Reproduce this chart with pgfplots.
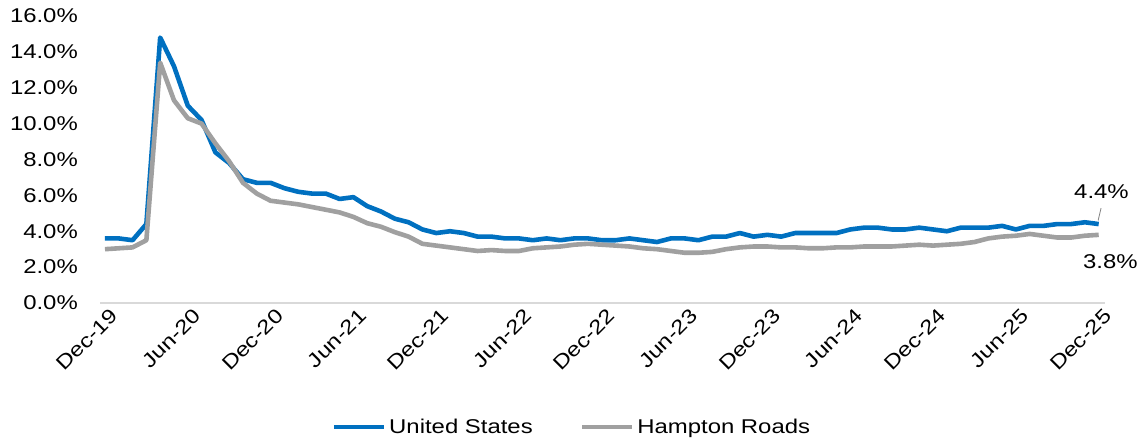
\documentclass[border=0pt]{standalone}
\usepackage{fontspec}
\setmainfont{Liberation Sans}[FakeStretch=1.2]
\usepackage{pgfplots}
\pgfplotsset{compat=1.18}
\usepackage{pgfplotstable}
\definecolor{usblue}{HTML}{0070C0}
\definecolor{hrgray}{HTML}{A0A0A0}
\definecolor{axgray}{HTML}{D9D9D9}
\pgfplotstableread{
i us hr
0 3.6 3.0
1 3.6 3.05
2 3.5 3.1
3 4.4 3.5
4 14.8 13.4
5 13.2 11.3
6 11.0 10.3
7 10.2 10.0
8 8.4 8.9
9 7.8 7.9
10 6.9 6.7
11 6.7 6.1
12 6.7 5.7
13 6.4 5.6
14 6.2 5.5
15 6.1 5.35
16 6.1 5.2
17 5.8 5.05
18 5.9 4.8
19 5.4 4.45
20 5.1 4.25
21 4.7 3.95
22 4.5 3.7
23 4.1 3.3
24 3.9 3.2
25 4.0 3.1
26 3.9 3.0
27 3.7 2.9
28 3.7 2.95
29 3.6 2.9
30 3.6 2.9
31 3.5 3.05
32 3.6 3.1
33 3.5 3.15
34 3.6 3.25
35 3.6 3.3
36 3.5 3.25
37 3.5 3.2
38 3.6 3.15
39 3.5 3.05
40 3.4 3.0
41 3.6 2.9
42 3.6 2.8
43 3.5 2.8
44 3.7 2.85
45 3.7 3.0
46 3.9 3.1
47 3.7 3.15
48 3.8 3.15
49 3.7 3.1
50 3.9 3.1
51 3.9 3.05
52 3.9 3.05
53 3.9 3.1
54 4.1 3.1
55 4.2 3.15
56 4.2 3.15
57 4.1 3.15
58 4.1 3.2
59 4.2 3.25
60 4.1 3.2
61 4.0 3.25
62 4.2 3.3
63 4.2 3.4
64 4.2 3.6
65 4.3 3.7
66 4.1 3.75
67 4.3 3.85
68 4.3 3.75
69 4.4 3.65
70 4.4 3.65
71 4.5 3.75
72 4.4 3.8
}\datatable
\begin{document}
\begin{tikzpicture}[font=\fontsize{20}{23}\selectfont]
\path[use as bounding box] (0,0) rectangle (1139bp,442bp);
\begin{axis}[
  at={(100bp,139bp)}, anchor=south west,
  scale only axis, width=1005bp, height=287bp,
  xmin=-0.36, xmax=72.46, ymin=0, ymax=16,
  axis x line*=bottom, axis y line*=left,
  x axis line style={draw=axgray, line width=1.5bp, -},
  y axis line style={draw=none},
  xtick={0,6,...,72},
  xticklabels={Dec-19,Jun-20,Dec-20,Jun-21,Dec-21,Jun-22,Dec-22,Jun-23,Dec-23,Jun-24,Dec-24,Jun-25,Dec-25},
  xticklabel style={rotate=45, anchor=north east, inner sep=0pt, yshift=-6bp},
  major tick length=0pt,
  ytick={0,2,...,16},
  yticklabels={0.0\%,2.0\%,4.0\%,6.0\%,8.0\%,10.0\%,12.0\%,14.0\%,16.0\%},
  yticklabel style={anchor=east, inner sep=0pt, xshift=-22bp},
  clip=false,
  legend columns=2,
  legend style={at={(0.47,-0.432)}, anchor=center, draw=none, fill=none,
    /tikz/every even column/.append style={column sep=44bp},
    inner sep=0pt, nodes={inner sep=3bp}},
  legend image code/.code={\draw[#1] (0bp,0bp) -- (50bp,0bp);},
]
\addplot[usblue, line width=4.6bp, line join=round] table[x=i, y=us] {\datatable};
\addlegendentry{United States}
\addplot[hrgray, line width=4.6bp, line join=round] table[x=i, y=hr] {\datatable};
\addlegendentry{Hampton Roads}
\node at (axis cs:72.2,6.18) {4.4\%};
\node at (axis cs:72.85,2.28) {3.8\%};
\draw[gray, line width=0.8bp] (axis cs:72.17,5.29) -- (axis cs:71.96,4.6);
\end{axis}
\end{tikzpicture}
\end{document}
